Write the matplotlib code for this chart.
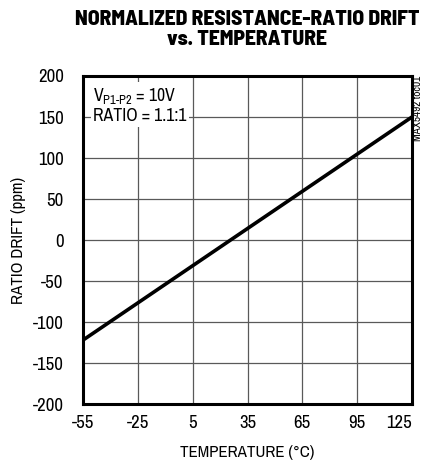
import numpy as np
import matplotlib
matplotlib.use("Agg")
import matplotlib.pyplot as plt

plt.rcParams['font.family'] = ['Archivo Narrow', 'DejaVu Sans']
plt.rcParams['axes.unicode_minus'] = False
plt.rcParams['mathtext.fontset'] = 'custom'
plt.rcParams['mathtext.rm'] = 'Archivo Narrow'

# data
temp = [-55, 125]
drift = [-122, 150]
xticks = [-55, -25, 5, 35, 65, 95, 125]
yticks = [-200, -150, -100, -50, 0, 50, 100, 150, 200]

fig = plt.figure(figsize=(4.26, 4.62), dpi=100)
ax = fig.add_axes([0.195, 0.1255, 0.772, 0.71])

ax.plot(temp, drift, color="k", lw=2.6, solid_capstyle="butt")
ax.set_xlim(-55, 125); ax.set_ylim(-200, 200)
ax.set_xticks(xticks); ax.set_yticks(yticks)
ax.grid(color="0.35", lw=0.9)
ax.tick_params(length=0, labelsize=13.5)
ax.tick_params(axis="x", pad=8)
ax.tick_params(axis="y", pad=14)
ax.get_xticklabels()[-1].set_ha("right")
for s in ax.spines.values():
    s.set_linewidth(2.2)

ax.set_xlabel("TEMPERATURE (°C)", fontsize=12.2, labelpad=10)
ax.set_ylabel("RATIO DRIFT (ppm)", fontsize=12.2)
ax.yaxis.set_label_coords(-0.175, 0.5)
fig.text(0.58, 0.978, "NORMALIZED RESISTANCE-RATIO DRIFT\nvs. TEMPERATURE",
         ha="center", va="top", fontsize=15.5, linespacing=1.05,
         family=["Barlow Semi Condensed", "DejaVu Sans"], fontweight=800)

ax.text(0.03, 0.97, "V$_{\\mathregular{P1\\text{-}P2}}$ = 10V\nRATIO = 1.1:1",
        transform=ax.transAxes, ha="left", va="top", fontsize=12.8,
        linespacing=1.2, bbox=dict(facecolor="white", edgecolor="none", pad=1.5))
fig.text(0.981, 0.835, "MAX5492 toc01", rotation=90, ha="center", va="top",
         fontsize=8)

fig.savefig("out.png", dpi=100)
